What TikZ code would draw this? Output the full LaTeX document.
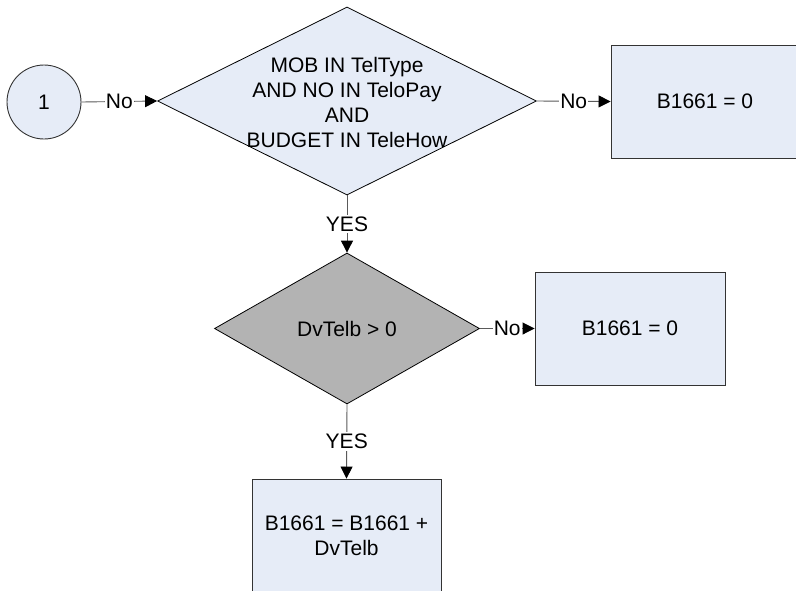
\documentclass[tikz,border=0pt]{standalone}
\usepackage{fontspec}
\setmainfont{Liberation Sans}
\usetikzlibrary{shapes.geometric,arrows.meta}
\definecolor{boxfill}{HTML}{E6ECF7}
\definecolor{decgray}{HTML}{B3B3B3}
\definecolor{edgecol}{HTML}{333333}
\definecolor{linecol}{HTML}{5A5A5A}
\tikzset{
  base/.style={font=\fontsize{21}{25}\selectfont},
  procbox/.style={base, draw=edgecol, line width=0.9pt, fill=boxfill, rectangle, inner sep=0pt, align=center},
  decbox/.style={draw=black, line width=0.8pt, diamond, inner sep=0pt},
  startcirc/.style={base, draw=edgecol, line width=0.9pt, fill=boxfill, circle, minimum size=74pt, inner sep=0pt},
  flow/.style={draw=linecol, line width=0.9pt, -{Triangle[length=12pt,width=12pt,fill=black,color=black]}},
  flowlabel/.style={base, fill=white, inner sep=1pt, text=black}
}
\begin{document}
\begin{tikzpicture}[x=1pt,y=-1pt]
\clip (0,0) rectangle (796,590);
\fill[white] (0,0) rectangle (796,590);
% nodes
\node[startcirc] (c1) at (44,102) {1};
\node[decbox, fill=boxfill, minimum width=379pt, minimum height=188pt] (d1) at (347,101) {};
\node[base, align=center, inner sep=0pt] (d1t) at (347,102) {MOB IN TelType\\AND NO IN TeloPay\\AND\\BUDGET IN TeleHow};
\node[procbox, minimum width=188pt, minimum height=113pt] (b1) at (705,101.5) {B1661 = 0};
\node[decbox, fill=decgray, minimum width=265pt, minimum height=151pt] (d2) at (347,328.5) {};
\node[base, inner sep=0pt] (d2t) at (347,328.5) {DvTelb > 0};
\node[procbox, minimum width=190pt, minimum height=113pt] (b2) at (630,328.5) {B1661 = 0};
\node[procbox, minimum width=189pt, minimum height=113pt] (b3) at (346.5,535.5) {B1661 = B1661 +\\DvTelb};
% connectors
\draw[flow] (c1.east) -- node[flowlabel] (l1) {No} (d1.west);
\draw[flow] (d1.east) -- node[flowlabel] (l2) {No} (b1.west);
\draw[flow] (d1.south) -- node[flowlabel, inner sep=2pt] (l3) {YES} (d2.north);
\draw[flow] (d2.east) -- node[flowlabel] (l4) {No} (b2.west);
\draw[flow] (d2.south) -- node[flowlabel, inner sep=2pt] (l5) {YES} (b3.north);
\end{tikzpicture}
\end{document}
